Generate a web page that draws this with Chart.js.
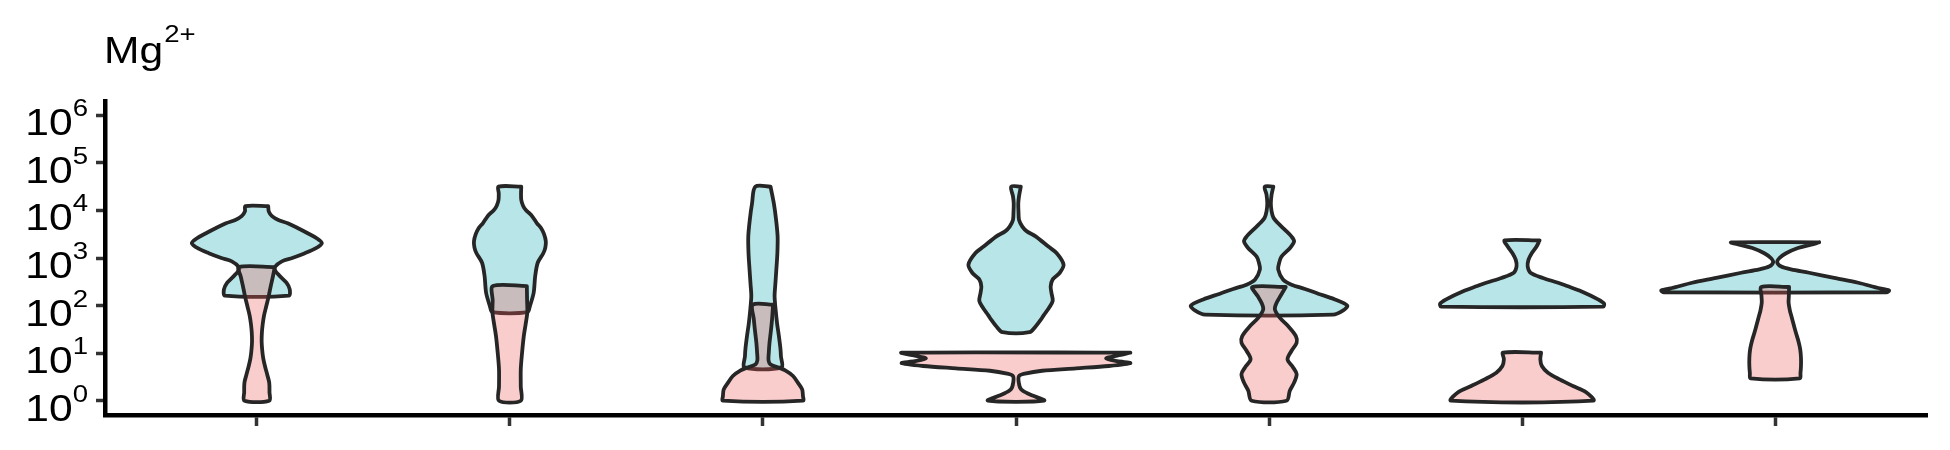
<!DOCTYPE html>
<html>
<head>
<meta charset="utf-8">
<title>Mg2+ violin plot</title>
<script src="https://cdn.jsdelivr.net/npm/chart.js@4.4.1/dist/chart.umd.min.js"></script>
<style>
  html, body { margin: 0; padding: 0; background: #fff; }
  #wrap { width: 1950px; height: 450px; position: relative; }
</style>
</head>
<body>
<div id="wrap"><canvas id="violinChart"></canvas></div>
<script>
// seven sample groups along x (no labels are printed under the ticks)
const categories = [1, 2, 3, 4, 5, 6, 7];

// y tick exponents, shown as 10^n
const yTickExponents = [0, 1, 2, 3, 4, 5, 6];

// violin outlines, listed top to bottom
// levels = log10(Mg2+), widths = half width of the violin (in group units)
const blueLevels = [
    [4.09, 3.98, 3.88, 3.80, 3.73, 3.62, 3.52, 3.41, 3.31, 3.20, 3.10, 3.00, 2.93, 2.81, 2.73, 2.62, 2.48, 2.34, 2.21],
    [4.50, 4.36, 4.22, 4.10, 4.01, 3.90, 3.73, 3.63, 3.50, 3.35, 3.22, 3.10, 2.90, 2.62, 2.27, 1.99, 1.86],
    [4.50, 4.15, 3.80, 3.45, 3.10, 2.76, 2.45, 2.20, 1.92, 1.62, 1.36, 1.10, 0.94, 0.70],
    [4.50, 4.30, 4.15, 3.95, 3.80, 3.66, 3.56, 3.45, 3.24, 3.10, 2.86, 2.69, 2.55, 2.40, 2.27, 2.10, 1.95, 1.80, 1.71, 1.57, 1.44],
    [4.50, 4.33, 4.15, 3.98, 3.84, 3.73, 3.59, 3.45, 3.35, 3.21, 3.03, 2.90, 2.76, 2.55, 2.44, 2.35, 2.25, 2.13, 2.00, 1.90, 1.81],
    [3.37, 3.24, 3.10, 2.96, 2.82, 2.69, 2.58, 2.48, 2.41, 2.30, 2.13, 2.04, 1.98],
    [3.33, 3.28, 3.21, 3.10, 3.00, 2.91, 2.82, 2.76, 2.69, 2.58, 2.48, 2.37, 2.32, 2.28]
];
const blueWidths = [
    [.045, .047, .060, .085, .122, .165, .201, .238, .257, .232, .190, .140, .099, .071, .073, .091, .117, .130, .126],
    [.045, .044, .045, .052, .063, .085, .107, .123, .135, .142, .140, .132, .110, .100, .094, .079, .069],
    [.030, .043, .052, .058, .057, .053, .049, .046, .050, .056, .063, .069, .071, .072],
    [.019, .012, .009, .010, .012, .025, .043, .079, .128, .161, .188, .173, .145, .137, .140, .145, .130, .110, .099, .079, .053],
    [.017, .010, .007, .010, .018, .036, .063, .089, .099, .083, .049, .040, .036, .055, .089, .142, .194, .260, .309, .293, .253],
    [.069, .057, .038, .025, .022, .033, .082, .142, .178, .233, .300, .324, .320],
    [.174, .142, .090, .043, .017, .008, .024, .063, .134, .233, .328, .407, .450, .440]
];
const pinkLevels = [
    [2.81, 2.60, 2.41, 2.20, 1.98, 1.78, 1.60, 1.43, 1.25, 1.08, 0.90, 0.73, 0.55, 0.38, 0.18, 0],
    [2.41, 2.10, 1.86, 1.60, 1.36, 1.00, 0.66, 0.30, 0],
    [2.02, 1.71, 1.45, 1.22, 1.00, 0.85, 0.76, 0.70, 0.64, 0.52, 0.38, 0.24, 0.10, 0],
    [1.01, 0.95, 0.89, 0.83, 0.79, 0.73, 0.68, 0.63, 0.57, 0.52, 0.38, 0.24, 0.14, 0],
    [2.39, 2.20, 2.06, 1.92, 1.74, 1.57, 1.36, 1.22, 1.05, 0.87, 0.70, 0.56, 0.38, 0.21, 0],
    [1.01, 0.87, 0.73, 0.59, 0.45, 0.31, 0.18, 0],
    [2.39, 2.20, 2.06, 1.90, 1.78, 1.60, 1.43, 1.25, 1.08, 0.90, 0.73, 0.58, 0.47]
];
const pinkWidths = [
    [.071, .063, .055, .047, .037, .028, .023, .020, .019, .021, .025, .032, .041, .049, .050, .049],
    [.067, .068, .069, .062, .055, .048, .043, .043, .043],
    [.040, .036, .031, .026, .023, .022, .030, .060, .088, .119, .138, .155, .158, .158],
    [.452, .400, .356, .400, .452, .367, .237, .103, .035, .012, .011, .020, .051, .111],
    [.066, .045, .030, .023, .043, .075, .106, .109, .089, .073, .095, .109, .099, .082, .069],
    [.075, .072, .078, .102, .148, .201, .253, .281],
    [.055, .054, .053, .058, .064, .073, .082, .092, .099, .102, .102, .100, .097]
];

const blueFill = 'rgba(0, 165, 172, 0.28)';
const pinkFill = 'rgba(238, 88, 88, 0.30)';
const outlineColor = '#262626';
const textStretch = 1.15;

// closed outline: right side top->bottom, left side bottom->top, back to start
function outline(center, levels, widths) {
    const pts = [];
    for (let i = 0; i < levels.length; i++) {
        pts.push({ x: center + widths[i], y: Math.pow(10, levels[i]) });
    }
    for (let i = levels.length - 1; i >= 0; i--) {
        pts.push({ x: center - widths[i], y: Math.pow(10, levels[i]) });
    }
    pts.push(pts[0]);
    return pts;
}

function violin(center, levels, widths, fill, order) {
    return {
        data: outline(center, levels, widths),
        backgroundColor: fill,
        borderColor: outlineColor,
        borderWidth: 3.8,
        borderJoinStyle: 'round',
        borderCapStyle: 'round',
        fill: 'shape',
        tension: 0.3,
        pointRadius: 0,
        pointHitRadius: 0,
        order: order
    };
}

const datasets = [];
categories.forEach((c, i) => {
    datasets.push(violin(c, pinkLevels[i], pinkWidths[i], pinkFill, 0));
    datasets.push(violin(c, blueLevels[i], blueWidths[i], blueFill, 1));
});

// tick labels with superscripts and the Mg2+ title
const labelPlugin = {
    id: 'mgLabels',
    afterDraw(chart) {
        const ctx = chart.ctx;
        const yScale = chart.scales.y;
        const area = chart.chartArea;
        const bigFont = '37px "Liberation Sans", Arial, sans-serif';
        const supFont = '24px "Liberation Sans", Arial, sans-serif';
        ctx.save();
        ctx.fillStyle = '#000';
        ctx.textBaseline = 'alphabetic';
        ctx.textAlign = 'left';

        yTickExponents.forEach(e => {
            const py = yScale.getPixelForValue(Math.pow(10, e));
            ctx.font = bigFont;
            const bw = ctx.measureText('10').width * textStretch;
            ctx.font = supFont;
            const sw = ctx.measureText(String(e)).width * textStretch;
            const right = area.left - 17;
            const x0 = right - sw - bw;
            ctx.save();
            ctx.translate(x0, 0);
            ctx.scale(textStretch, 1);
            ctx.font = bigFont;
            ctx.fillText('10', 0, py + 20);
            ctx.font = supFont;
            ctx.fillText(String(e), bw / textStretch, py + 1);
            ctx.restore();
        });

        ctx.save();
        ctx.translate(area.left - 1, 0);
        ctx.scale(textStretch, 1);
        ctx.font = bigFont;
        ctx.fillText('Mg', 0, 63);
        const mw = ctx.measureText('Mg').width;
        ctx.font = supFont;
        ctx.fillText('2+', mw + 1, 42);
        ctx.restore();

        ctx.restore();
    }
};

new Chart(document.getElementById('violinChart'), {
    type: 'line',
    data: { datasets: datasets },
    options: {
        responsive: true,
        maintainAspectRatio: false,
        animation: false,
        events: [],
        layout: { padding: { left: 96, right: 23, top: 101, bottom: 24 } },
        plugins: {
            legend: { display: false },
            tooltip: { enabled: false }
        },
        scales: {
            x: {
                type: 'linear',
                min: 0.4,
                max: 7.6,
                bounds: 'data',
                afterBuildTicks: scale => {
                    scale.ticks = categories.map(v => ({ value: v }));
                },
                ticks: { display: false },
                grid: {
                    drawOnChartArea: false,
                    drawTicks: true,
                    tickLength: 11,
                    tickWidth: 3.5,
                    tickColor: '#333'
                },
                border: { display: true, color: '#000', width: 4.5 }
            },
            y: {
                type: 'logarithmic',
                min: Math.pow(10, -0.3),
                max: Math.pow(10, 6.3),
                bounds: 'data',
                afterBuildTicks: scale => {
                    scale.ticks = yTickExponents.map(e => ({ value: Math.pow(10, e) }));
                },
                ticks: { display: false },
                grid: {
                    drawOnChartArea: false,
                    drawTicks: true,
                    tickLength: 9,
                    tickWidth: 3.5,
                    tickColor: '#333'
                },
                border: { display: true, color: '#000', width: 4.5 }
            }
        }
    },
    plugins: [labelPlugin]
});
</script>
</body>
</html>
